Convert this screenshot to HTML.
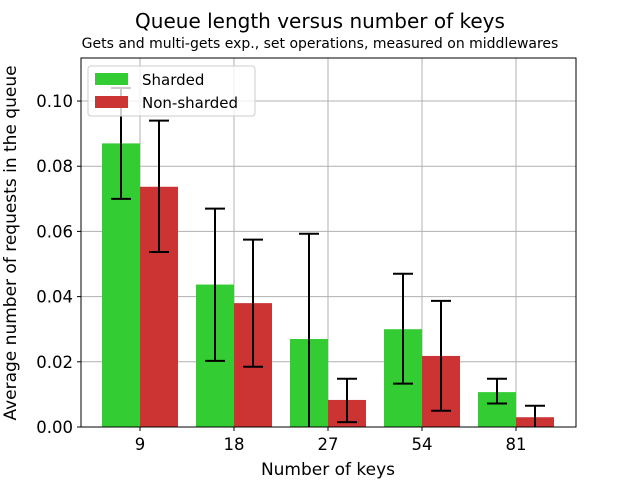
<!DOCTYPE html>
<html><head><meta charset="utf-8"><style>
body{margin:0;background:#fff}
svg text{font-family:"DejaVu Sans","Liberation Sans",sans-serif;fill:#000}
</style></head><body>
<svg id="chart" width="640" height="480" xmlns="http://www.w3.org/2000/svg">
<text x="320" y="28" font-size="20" text-anchor="middle">Queue length versus number of keys</text>
<text x="320" y="48" font-size="14" text-anchor="middle">Gets and multi-gets exp., set operations, measured on middlewares</text>
<g id="grid"></g><g id="bars"></g><g id="errs"></g><g id="ticks"></g>
<rect x="81" y="58" width="495" height="369" fill="none" stroke="#000" stroke-width="1"/>
<text x="328" y="475" font-size="17" text-anchor="middle">Number of keys</text>
<text transform="translate(16,243) rotate(-90)" font-size="17" text-anchor="middle">Average number of requests in the queue</text>
<g>
<rect x="88" y="66" width="167" height="50" rx="3" fill="#fff" fill-opacity="0.8" stroke="#ccc"/>
<rect x="95" y="73" width="33" height="12" fill="#33cc33"/>
<text x="142" y="85" font-size="15">Sharded</text>
<rect x="95" y="96" width="33" height="12" fill="#cc3333"/>
<text x="142" y="108" font-size="15">Non-sharded</text>
</g>
</svg>
<script>
const categories=["9","18","27","54","81"];
const sharded=[0.087,0.0437,0.027,0.030,0.0107];
const shardedLo=[0.070,0.0203,-0.005,0.0133,0.0072];
const shardedHi=[0.104,0.067,0.0593,0.047,0.0148];
const nonSharded=[0.0737,0.038,0.0083,0.0218,0.003];
const nonShardedLo=[0.0537,0.0185,0.0015,0.005,-0.0005];
const nonShardedHi=[0.094,0.0575,0.0148,0.0387,0.0065];
const yTicks=[0,0.02,0.04,0.06,0.08,0.10];
const yTickLabels=["0.00","0.02","0.04","0.06","0.08","0.10"];
const L=81,R=576,T=58,B=427,YMAX=0.1132;
const y=v=>B-(Math.max(v,0)/YMAX)*(B-T);
const xc=i=>140+i*94;
const NS="http://www.w3.org/2000/svg";
function mk(p,tag,a){const e=document.createElementNS(NS,tag);for(const k in a)e.setAttribute(k,a[k]);document.getElementById(p).appendChild(e);return e;}
yTicks.forEach((t,i)=>{
 const g=mk('grid','line',{x1:L,x2:R,y1:y(t),y2:y(t),stroke:'#b0b0b0','stroke-width':1});
 
 
 mk('ticks','line',{x1:L-4,x2:L,y1:y(t),y2:y(t),stroke:'#000'});
 const tx=mk('ticks','text',{x:L-8,y:y(t)+6,'font-size':16.5,'text-anchor':'end'});
 tx.textContent=yTickLabels[i];
 
 
});
categories.forEach((c,i)=>{
 const g=mk('grid','line',{x1:xc(i),x2:xc(i),y1:T,y2:B,stroke:'#b0b0b0','stroke-width':1});
 
 
 mk('ticks','line',{x1:xc(i),x2:xc(i),y1:B,y2:B+4,stroke:'#000'});
 const tx=mk('ticks','text',{x:xc(i),y:B+23,'font-size':16.5,'text-anchor':'middle'});
 tx.textContent=c;
 
 
 [[sharded,shardedLo,shardedHi,'#33cc33',-38,'sharded'],[nonSharded,nonShardedLo,nonShardedHi,'#cc3333',0,'non-sharded']].forEach(s=>{
  const v=s[0][i];
  const b=mk('bars','rect',{x:xc(i)+s[4],y:y(v),width:38,height:B-y(v),fill:s[3]});
  
  
  const cx=xc(i)+s[4]+19,lo=s[1][i],hi=s[2][i];
  const e=mk('errs','path',{d:`M${cx},${y(lo)}V${y(hi)}M${cx-10},${y(hi)}H${cx+10}`+(lo>=0?`M${cx-10},${y(lo)}H${cx+10}`:''),stroke:'#000','stroke-width':2,fill:'none'});
  
  
 });
});
</script>
</body></html>
